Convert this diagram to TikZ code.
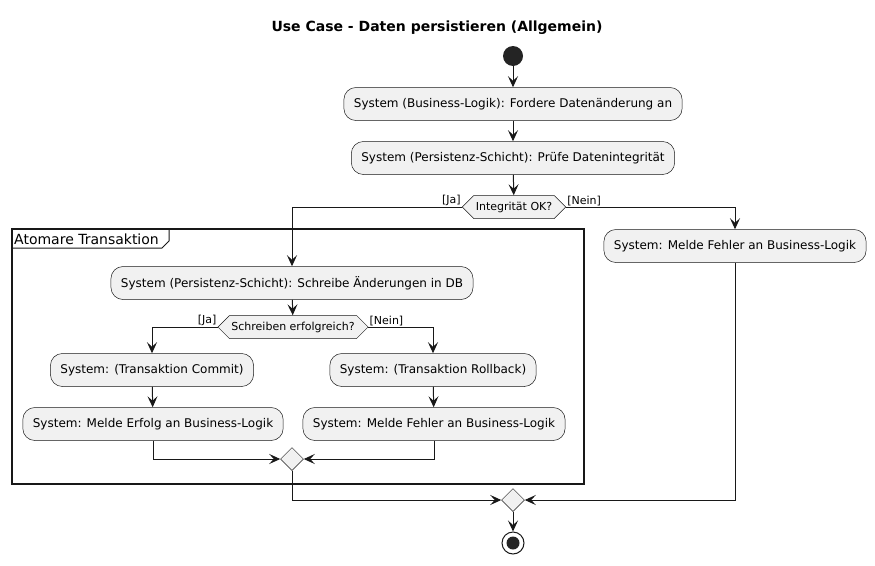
\documentclass[tikz,border=0pt]{standalone}
\usepackage{fontspec}
\setmainfont{DejaVu Sans}
\usetikzlibrary{positioning,arrows.meta,shapes.geometric,shapes.symbols}
\definecolor{umlline}{HTML}{181818}
\definecolor{umlfill}{HTML}{F1F1F1}
\tikzset{%
action/.style={draw=umlline,fill=umlfill,line width=0.5pt,rounded corners=12pt,minimum height=33pt,inner xsep=10pt,font=\fontsize{12}{14}\selectfont},
decision/.style={draw=umlline,fill=umlfill,line width=0.5pt,signal,signal to=east and west,signal pointer angle=90,minimum height=23pt,inner xsep=2pt,inner ysep=0pt,font=\fontsize{11}{13}\selectfont},
merge/.style={draw=umlline,fill=umlfill,line width=0.5pt,diamond,minimum size=23pt,inner sep=0pt},
guard/.style={font=\fontsize{11}{13}\selectfont,inner sep=1pt},
flow/.style={draw=umlline,line width=1pt,-{Stealth[length=11pt,width=10pt,inset=4.5pt]}},
plain/.style={draw=umlline,line width=1pt}
}
\begin{document}
\begin{tikzpicture}[x=1pt,y=-1pt]
    \useasboundingbox (0,0) rectangle (875,565);

    \node[font=\fontsize{14}{16}\selectfont\bfseries] (title) at (437,28) {Use Case - Daten persistieren (Allgemein)};

    % main column
    \node[circle,fill=umlline!95!white,minimum size=20pt,inner sep=0] (start) at (513,56) {};
    \node[action] (request) at (513,104) {System (Business-Logik): Fordere Datenänderung an};
    \node[action] (check) at (513,158) {System (Persistenz-Schicht): Prüfe Datenintegrität};
    \node[decision] (intok) at (514,207) {Integrität OK?};
    \node[guard,anchor=south east] (ja1) at (intok.west) {[Ja]};
    \node[guard,anchor=south west] (nein1) at (intok.east) {[Nein]};

    % error branch
    \node[action] (errbl) at (735,246) {System: Melde Fehler an Business-Logik};

    % transaction frame
    \draw[umlline,line width=1.5pt] (12,229) rectangle (584,484);
    \draw[umlline,line width=1pt] (12,248) -- (162,248) -- (169,241) -- (169,229);
    \node[font=\fontsize{14}{16}\selectfont,anchor=west,inner sep=1pt] (frame) at (13,239) {Atomare Transaktion};

    \node[action] (write) at (292,283) {System (Persistenz-Schicht): Schreibe Änderungen in DB};
    \node[decision] (writeok) at (293,327) {Schreiben erfolgreich?};
    \node[guard,anchor=south east] (ja2) at (writeok.west) {[Ja]};
    \node[guard,anchor=south west] (nein2) at (writeok.east) {[Nein]};
    \node[action] (commit) at (152,370) {System: (Transaktion Commit)};
    \node[action] (okbl) at (153,424) {System: Melde Erfolg an Business-Logik};
    \node[action] (rollback) at (433,370) {System: (Transaktion Rollback)};
    \node[action] (failbl) at (434,424) {System: Melde Fehler an Business-Logik};
    \node[merge] (m2) at (292,459) {};

    \node[merge] (m3) at (513,500) {};
    \node[circle,draw=umlline,line width=1pt,fill=white,minimum size=22pt,inner sep=0] (stop) at (513,543) {};
    \node[circle,fill=umlline!95!white,minimum size=13pt,inner sep=0] (stopdot) at (stop) {};

    \path[flow] (start) -- (request);
    \path[flow] (request) -- (check);
    \path[flow] (check) -- (intok);
    \path[flow] (intok.west) -| (write);
    \path[flow] (intok.east) -| (errbl);
    \path[flow] (write) -- (writeok);
    \path[flow] (writeok.west) -| (commit);
    \path[flow] (writeok.east) -| (rollback);
    \path[flow] (commit) -- (okbl);
    \path[flow] (rollback) -- (failbl);
    \path[flow] (okbl) |- (m2);
    \path[flow] (failbl) |- (m2);
    \path[flow] (m2) |- (m3);
    \path[flow] (errbl) |- (m3);
    \path[flow] (m3) -- (stop);
\end{tikzpicture}
\end{document}
